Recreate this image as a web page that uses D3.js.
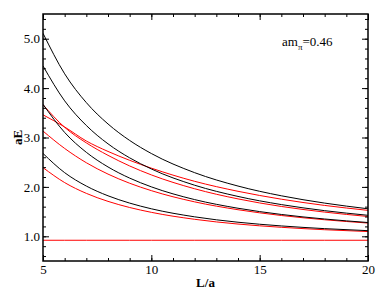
<!DOCTYPE html>
<html>
<head>
<meta charset="utf-8">
<script src="https://cdn.jsdelivr.net/npm/d3@7"></script>
<style>
  body { margin: 0; background: #fff; }
  svg text { font-family: "Liberation Serif", "DejaVu Serif", serif; }
</style>
</head>
<body>
<div id="chart"></div>
<script>
const boxL = [5, 6, 7, 8, 9, 10, 12, 14, 16, 18, 20];

// free two-pion levels (black)
const free1 = [2.677, 2.288, 2.017, 1.820, 1.672, 1.557, 1.394, 1.285, 1.210, 1.155, 1.114];
const free2 = [3.672, 3.102, 2.700, 2.404, 2.178, 2.001, 1.743, 1.568, 1.442, 1.350, 1.279];
const free3 = [4.449, 3.742, 3.243, 2.872, 2.588, 2.363, 2.034, 1.807, 1.642, 1.519, 1.425];
const free4 = [5.110, 4.289, 3.706, 3.274, 2.940, 2.676, 2.288, 2.017, 1.820, 1.672, 1.557];

// interacting levels (red)
const int0 = [0.92, 0.92, 0.92, 0.92, 0.92, 0.92, 0.92, 0.92, 0.92, 0.92, 0.92];
const int1 = [2.390, 2.087, 1.869, 1.707, 1.583, 1.485, 1.344, 1.248, 1.182, 1.133, 1.096];
const int2 = [3.130, 2.778, 2.489, 2.259, 2.074, 1.924, 1.697, 1.538, 1.421, 1.335, 1.268];
const int3 = [3.663, 3.206, 2.891, 2.639, 2.424, 2.243, 1.962, 1.757, 1.604, 1.490, 1.401];
const int4 = [3.459, 3.213, 2.929, 2.718, 2.538, 2.380, 2.113, 1.911, 1.751, 1.625, 1.525];

const blackSeries = [free1, free2, free3, free4];
const redSeries = [int0, int1, int2, int3, int4];

const xTicks = [5, 10, 15, 20];
const yTicks = [1.0, 2.0, 3.0, 4.0, 5.0];

const width = 387, height = 299;
const margin = { top: 14, right: 19, bottom: 38, left: 43 };
const innerW = width - margin.left - margin.right;
const innerH = height - margin.top - margin.bottom;
const serif = "'Liberation Serif', 'DejaVu Serif', serif";

const svg = d3.select("#chart")
  .append("svg")
  .attr("width", width)
  .attr("height", height);

const g = svg.append("g")
  .attr("transform", `translate(${margin.left},${margin.top})`);

const x = d3.scaleLinear().domain([5, 20]).range([0, innerW]);
const y = d3.scaleLinear().domain([0.5, 5.5]).range([innerH, 0]);

// clip the curves to the frame
g.append("clipPath").attr("id", "clip")
  .append("rect").attr("width", innerW).attr("height", innerH);

const lineGen = d3.line()
  .x((d, i) => x(boxL[i]))
  .y(d => y(d))
  .curve(d3.curveMonotoneX);

const plot = g.append("g").attr("clip-path", "url(#clip)");

plot.selectAll(".red")
  .data(redSeries)
  .enter()
  .append("path")
  .attr("d", lineGen)
  .attr("fill", "none")
  .attr("stroke", "#ff0000")
  .attr("stroke-width", 1);

plot.selectAll(".black")
  .data(blackSeries)
  .enter()
  .append("path")
  .attr("d", lineGen)
  .attr("fill", "none")
  .attr("stroke", "#000")
  .attr("stroke-width", 1);

// axes, ticks pointing inwards, minor ticks included
const xMinor = d3.range(5, 20.01, 1);
const yMinor = d3.range(0.6, 5.45, 0.2);

const axisStyle = sel => {
  sel.attr("font-family", serif);
  sel.select(".domain").remove();
  sel.selectAll("line").attr("stroke", "#000").attr("stroke-width", 1);
};

g.append("g")
  .attr("transform", `translate(0,${innerH})`)
  .call(d3.axisBottom(x).tickValues(xMinor).tickSize(-3).tickFormat(""))
  .call(axisStyle);
g.append("g")
  .attr("transform", `translate(0,${innerH})`)
  .call(d3.axisBottom(x).tickValues(xTicks).tickSize(-6).tickPadding(4).tickFormat(d3.format("d")))
  .call(axisStyle)
  .selectAll("text").attr("font-size", 13).attr("fill", "#000");

g.append("g")
  .call(d3.axisTop(x).tickValues(xMinor).tickSize(-3).tickFormat(""))
  .call(axisStyle);
g.append("g")
  .call(d3.axisTop(x).tickValues(xTicks).tickSize(-6).tickFormat(""))
  .call(axisStyle);

g.append("g")
  .call(d3.axisLeft(y).tickValues(yMinor).tickSize(-3).tickFormat(""))
  .call(axisStyle);
g.append("g")
  .call(d3.axisLeft(y).tickValues(yTicks).tickSize(-6).tickPadding(3).tickFormat(d3.format(".1f")))
  .call(axisStyle)
  .selectAll("text").attr("font-size", 13).attr("fill", "#000");

g.append("g")
  .attr("transform", `translate(${innerW},0)`)
  .call(d3.axisRight(y).tickValues(yMinor).tickSize(-3).tickFormat(""))
  .call(axisStyle);
g.append("g")
  .attr("transform", `translate(${innerW},0)`)
  .call(d3.axisRight(y).tickValues(yTicks).tickSize(-6).tickFormat(""))
  .call(axisStyle);

// frame
g.append("rect")
  .attr("width", innerW)
  .attr("height", innerH)
  .attr("fill", "none")
  .attr("stroke", "#000")
  .attr("stroke-width", 1.5);

// axis titles
svg.append("text")
  .attr("x", margin.left + innerW / 2)
  .attr("y", 287)
  .attr("text-anchor", "middle")
  .attr("font-size", 13)
  .attr("font-weight", "bold")
  .text("L/a");

svg.append("text")
  .attr("transform", `translate(22,${margin.top + innerH / 2}) rotate(-90)`)
  .attr("text-anchor", "middle")
  .attr("font-size", 13)
  .attr("font-weight", "bold")
  .text("aE");

// annotation
const note = svg.append("text")
  .attr("x", 282)
  .attr("y", 46)
  .attr("font-size", 13);
note.append("tspan").text("am");
note.append("tspan").attr("font-size", 9).attr("dy", 4).text("π");
note.append("tspan").attr("dy", -4).text("=0.46");
</script>
</body>
</html>
